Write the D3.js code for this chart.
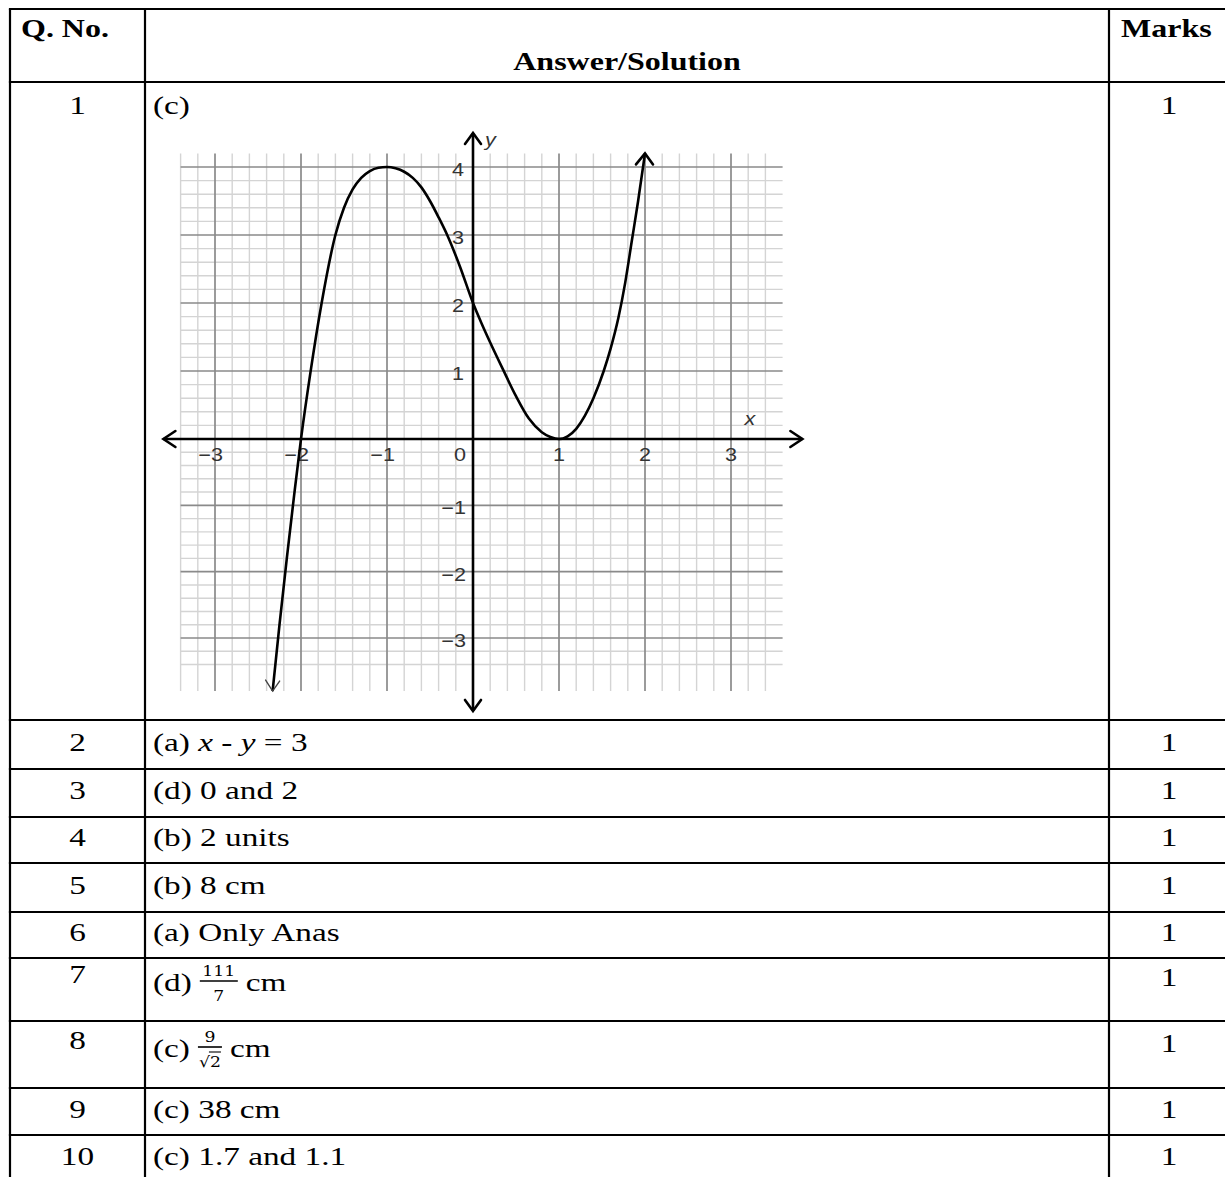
<!DOCTYPE html>
<html><head><meta charset="utf-8">
<script src="https://cdn.jsdelivr.net/npm/d3@7"></script>
<style>html,body{margin:0;padding:0;background:#fff;}svg{display:block;}</style>
</head><body>
<script>
// ---------- DATA ----------
const headers = ["Q. No.", "Answer/Solution", "Marks"];
const qNos = ["1","2","3","4","5","6","7","8","9","10"];
const answers = ["(c)", "(a) *x* - *y* = 3", "(d) 0 and 2", "(b) 2 units", "(b) 8 cm",
  "(a) Only Anas", "(d) {111|7} cm", "(c) {9|√2} cm", "(c) 38 cm", "(c) 1.7 and 1.1"];
const marks = [1,1,1,1,1,1,1,1,1,1];
// graph of Q1: points
const curveX = [-2.33,-2.25,-2.165,-2.08,-2.0,-1.89,-1.76,-1.6,-1.5,-1.4,-1.3,-1.2,-1.1,-1.0,-0.9,-0.8,-0.7,-0.6,-0.5,-0.4,-0.3,-0.15,0,0.1,0.2,0.35,0.5,0.65,0.8,0.9,1.0,1.1,1.2,1.3,1.4,1.52,1.6,1.69,1.77,1.845,1.92,2.0];
const curveY = [-3.8,-2.8,-1.8,-0.85,0,0.98,2.0,3.0,3.4,3.67,3.84,3.94,3.99,4.0,3.98,3.93,3.84,3.7,3.5,3.26,3.0,2.53,2.0,1.7,1.42,1.02,0.63,0.3,0.1,0.03,0,0.04,0.15,0.34,0.6,1.0,1.33,1.78,2.3,2.9,3.5,4.2];
const xTicks = [-3,-2,-1,0,1,2,3];
const yTicks = [-3,-2,-1,1,2,3,4];

// ---------- LAYOUT ----------
const W = 1225, H = 1177, SX = 1.28;
const svg = d3.select("body").append("svg").attr("width", W).attr("height", H);
const SERIF = '"Liberation Serif","Times New Roman",serif';
const SANS = '"Liberation Sans",Arial,sans-serif';

function T(sel, x, y, s, o = {}) {
  return sel.append("text")
    .attr("transform", `translate(${x},${y}) scale(${o.sx || SX},1)`)
    .attr("text-anchor", o.anchor || "start")
    .attr("font-family", o.font || SERIF)
    .attr("font-size", o.size || 26)
    .attr("font-weight", o.bold ? "bold" : "normal")
    .attr("font-style", o.italic ? "italic" : "normal")
    .attr("fill", o.fill || "#000")
    .style("white-space", "pre")
    .text(s);
}

// ---------- GRAPH ----------
const g = svg.append("g");
const xS = d3.scaleLinear().domain([-3, 3]).range([215, 731]);
const yS = d3.scaleLinear().domain([-3, 0, 4]).range([638, 439, 167]);
const r = v => Math.round(v * 10) / 10;
const vLines = d3.range(-17, 18).map(i => r(i * 0.2));
const hLines = d3.range(-17, 21).map(i => r(i * 0.2));
const isMajor = v => Math.abs(v - Math.round(v)) < 1e-6;

g.selectAll("line.vmin").data(vLines.filter(v => !isMajor(v))).join("line")
  .attr("x1", d => xS(d)).attr("x2", d => xS(d)).attr("y1", yS(4.2)).attr("y2", yS(-3.8))
  .attr("stroke", "#d4d4d4").attr("stroke-width", 1.4);
g.selectAll("line.hmin").data(hLines.filter(v => !isMajor(v))).join("line")
  .attr("y1", d => yS(d)).attr("y2", d => yS(d)).attr("x1", xS(-3.4)).attr("x2", xS(3.6))
  .attr("stroke", "#d4d4d4").attr("stroke-width", 1.4);
g.selectAll("line.vmaj").data(xTicks.filter(v => v !== 0)).join("line")
  .attr("x1", d => xS(d)).attr("x2", d => xS(d)).attr("y1", yS(4.2)).attr("y2", yS(-3.8))
  .attr("stroke", "#8a8a8a").attr("stroke-width", 1.7);
g.selectAll("line.hmaj").data(yTicks).join("line")
  .attr("y1", d => yS(d)).attr("y2", d => yS(d)).attr("x1", xS(-3.4)).attr("x2", xS(3.6))
  .attr("stroke", "#8a8a8a").attr("stroke-width", 1.7);

// axes
const axW = 2.6;
g.append("line").attr("x1", xS(-3.6)).attr("x2", xS(3.83)).attr("y1", yS(0)).attr("y2", yS(0))
  .attr("stroke", "#000").attr("stroke-width", axW);
g.append("line").attr("x1", xS(0)).attr("x2", xS(0)).attr("y1", yS(4.5)).attr("y2", yS(-4.1))
  .attr("stroke", "#000").attr("stroke-width", axW);
function chevron(x, y, dx1, dy1, dx2, dy2, w, c) {
  g.append("path").attr("d", `M${x + dx1},${y + dy1}L${x},${y}L${x + dx2},${y + dy2}`)
    .attr("fill", "none").attr("stroke", c || "#000").attr("stroke-width", w || axW)
    .attr("stroke-linecap", "round").attr("stroke-linejoin", "miter");
}
chevron(xS(-3.6), yS(0), 12, -8, 12, 8);
chevron(xS(3.83), yS(0), -12, -8, -12, 8);
chevron(xS(0), yS(4.5), -8, 11, 8, 11);
chevron(xS(0), yS(-4.1), -8, -11, 8, -11);

// tick labels
const TK = {font: SANS, size: 18, fill: "#333", sx: 1.2};
xTicks.forEach(v => {
  if (v < 0) T(g, xS(v) + 8, yS(0) + 22, "−" + Math.abs(v), {...TK, anchor: "end"});
  else if (v === 0) T(g, xS(0) - 13, yS(0) + 22, "0", {...TK, anchor: "middle"});
  else T(g, xS(v), yS(0) + 22, String(v), {...TK, anchor: "middle"});
});
yTicks.forEach(v => {
  T(g, xS(0) + (v < 0 ? -7 : -9), yS(v) + 9, (v < 0 ? "−" : "") + Math.abs(v), {...TK, anchor: "end"});
});
T(g, xS(3.22), yS(0) - 14, "x", {...TK, italic: true, anchor: "middle"});
T(g, xS(0) + 12, yS(4.5) + 13, "y", {...TK, italic: true});

// curve
const pts = curveX.map((x, i) => [x, curveY[i]]);
g.append("path").datum(pts)
  .attr("d", d3.line().x(d => xS(d[0])).y(d => yS(d[1])).curve(d3.curveMonotoneX))
  .attr("fill", "none").attr("stroke", "#000").attr("stroke-width", 2.6);
const last = pts[pts.length - 1], first = pts[0];
chevron(xS(last[0]), yS(last[1]), -9, 11, 8, 11, 2.6);
chevron(xS(first[0]), yS(first[1]), -7, -11, 7, -10, 1.4, "#444");

// ---------- TABLE ----------
const t = svg.append("g");
const L = 10, C1 = 145, C2 = 1109, R = 1226;
const rowLines = [9, 82, 720, 769, 817, 863, 912, 958, 1021, 1088, 1135];
const lw = 2.2;
rowLines.forEach(y => t.append("line").attr("x1", L - lw / 2).attr("x2", R).attr("y1", y).attr("y2", y)
  .attr("stroke", "#000").attr("stroke-width", lw));
[L, C1, C2].forEach(x => t.append("line").attr("x1", x).attr("x2", x).attr("y1", rowLines[0]).attr("y2", H + 2)
  .attr("stroke", "#000").attr("stroke-width", lw));

// headers
T(t, 21, 37, headers[0], {bold: true, size: 25});
T(t, (C1 + C2) / 2, 70, headers[1], {bold: true, size: 25, anchor: "middle"});
T(t, 1121, 37, headers[2], {bold: true, size: 25});

const labelBase = [114, 751, 799, 846, 894, 941, 983, 1049, 1118, 1165];
const ansBase   = [114, 751, 799, 846, 894, 941, 991, 1057, 1118, 1165];
const marksBase = [114, 751, 799, 846, 894, 941, 986, 1052, 1118, 1165];
const colMid = (L + C1) / 2, marksMid = 1169, ansX = 153;

qNos.forEach((q, i) => {
  T(t, colMid, labelBase[i], q, {anchor: "middle"});
  T(t, marksMid, marksBase[i], String(marks[i]), {anchor: "middle"});
  const a = answers[i];
  const fm = a.match(/^(.*?)\{(.*?)\|(.*?)\}(.*)$/);
  if (fm) {
    const pre = T(t, ansX, ansBase[i], fm[1].trimEnd());
    const preW = pre.node().getComputedTextLength() * SX;
    const fx0 = ansX + preW + 8;
    const isRoot = fm[3].startsWith("√");
    const fw = isRoot ? 24 : 38;
    const fc = fx0 + fw / 2;
    const bar = ansBase[i] - 10;
    T(t, fc, bar - 5, fm[2], {font: '"DejaVu Serif",serif', size: 15, anchor: "middle", sx: 1.15});
    t.append("line").attr("x1", fx0).attr("x2", fx0 + fw).attr("y1", bar).attr("y2", bar)
      .attr("stroke", "#000").attr("stroke-width", 1.6);
    T(t, fc, bar + 20, fm[3], {font: '"DejaVu Serif",serif', size: 15, anchor: "middle", sx: 1.15});
    if (isRoot) {
      t.append("line").attr("x1", fc - 1).attr("x2", fc + 11).attr("y1", bar + 5).attr("y2", bar + 5)
        .attr("stroke", "#000").attr("stroke-width", 1.1);
    }
    T(t, fx0 + fw + 8, ansBase[i], fm[4].trim());
  } else {
    const tx = T(t, ansX, ansBase[i], "");
    a.split(/(\*[^*]+\*)/).filter(s => s.length).forEach(s => {
      const it = s.startsWith("*");
      tx.append("tspan").attr("font-style", it ? "italic" : "normal")
        .style("white-space", "pre").text(it ? s.slice(1, -1) : s);
    });
  }
});
</script>
</body></html>
